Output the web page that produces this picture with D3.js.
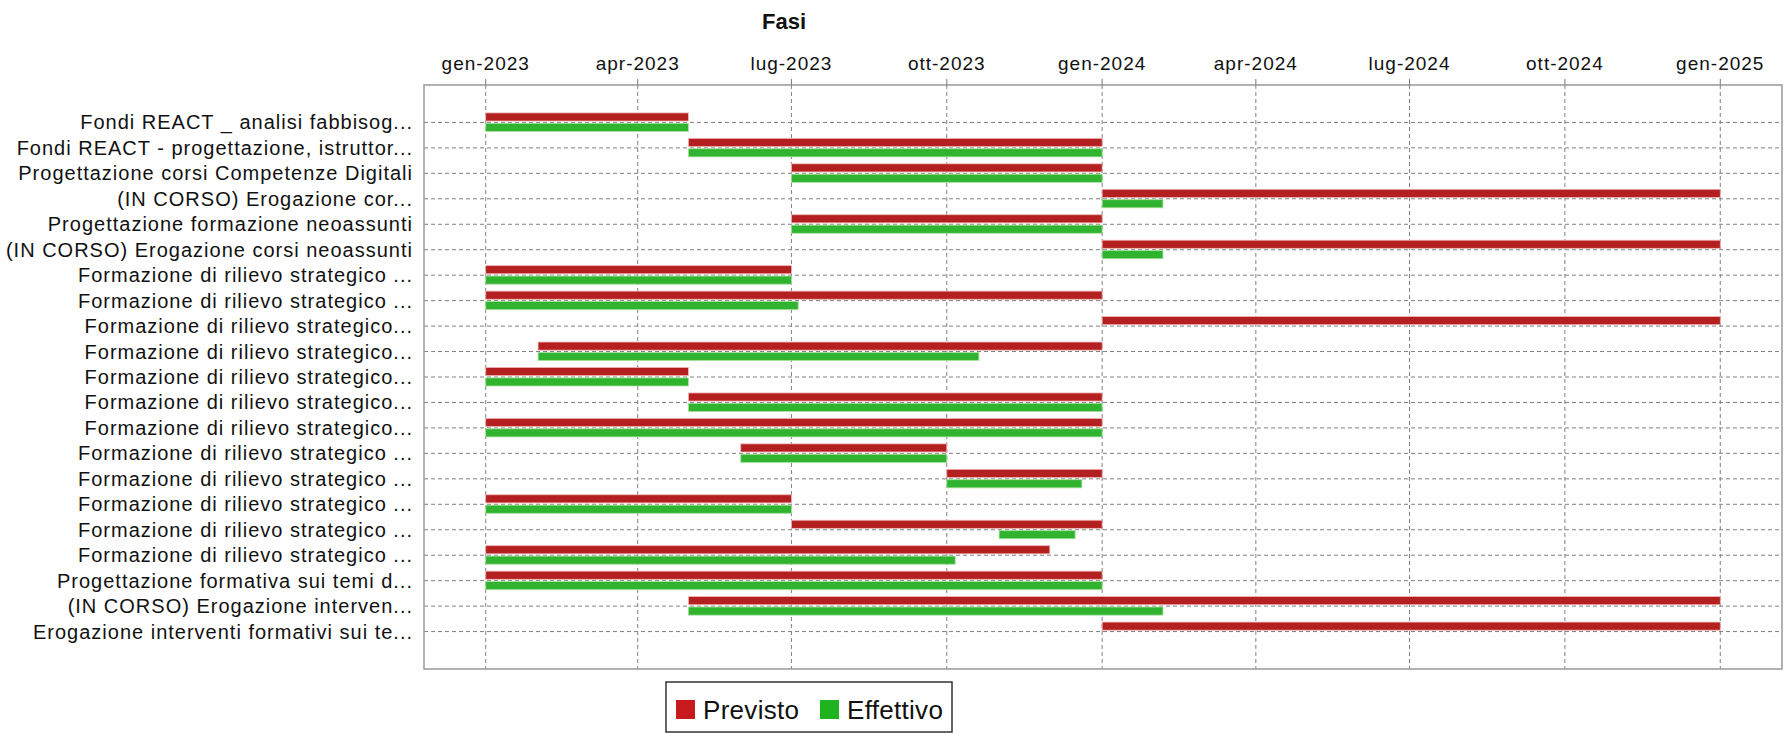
<!DOCTYPE html>
<html lang="it">
<head>
<meta charset="utf-8">
<title>Fasi</title>
<style>
  body { margin: 0; background: #fff; }
  svg text { font-family: "Liberation Sans", Arial, sans-serif; fill: #111; }
  .grid line { stroke: #808080; stroke-width: 1; stroke-dasharray: 4,3; }
  .rowlabel { font-size: 20px; letter-spacing: 1px; }
  .ticklabel { font-size: 19px; letter-spacing: 1px; }
</style>
</head>
<body>
<div id="chart"></div>
<script src="https://cdn.jsdelivr.net/npm/d3@7"></script>
<script>
// fasi (etichette come nel grafico, tagliate)
var fasi = [
  "Fondi REACT _ analisi fabbisog...",
  "Fondi REACT - progettazione, istruttor...",
  "Progettazione corsi Competenze Digitali",
  "(IN CORSO) Erogazione cor...",
  "Progettazione formazione neoassunti",
  "(IN CORSO) Erogazione corsi neoassunti",
  "Formazione di rilievo strategico ...",
  "Formazione di rilievo strategico ...",
  "Formazione di rilievo strategico...",
  "Formazione di rilievo strategico...",
  "Formazione di rilievo strategico...",
  "Formazione di rilievo strategico...",
  "Formazione di rilievo strategico...",
  "Formazione di rilievo strategico ...",
  "Formazione di rilievo strategico ...",
  "Formazione di rilievo strategico ...",
  "Formazione di rilievo strategico ...",
  "Formazione di rilievo strategico ...",
  "Progettazione formativa sui temi d...",
  "(IN CORSO) Erogazione interven...",
  "Erogazione interventi formativi sui te..."
];

var previstoInizio = ["2023-01-01","2023-05-01","2023-07-01","2024-01-01","2023-07-01","2024-01-01","2023-01-01",
  "2023-01-01","2024-01-01","2023-02-01","2023-01-01","2023-05-01","2023-01-01","2023-06-01",
  "2023-10-01","2023-01-01","2023-07-01","2023-01-01","2023-01-01","2023-05-01","2024-01-01"];
var previstoFine = ["2023-05-01","2024-01-01","2024-01-01","2025-01-01","2024-01-01","2025-01-01","2023-07-01",
  "2024-01-01","2025-01-01","2024-01-01","2023-05-01","2024-01-01","2024-01-01","2023-10-01",
  "2024-01-01","2023-07-01","2024-01-01","2023-12-01","2024-01-01","2025-01-01","2025-01-01"];

var effettivoInizio = ["2023-01-01","2023-05-01","2023-07-01","2024-01-01","2023-07-01","2024-01-01","2023-01-01",
  "2023-01-01",null,"2023-02-01","2023-01-01","2023-05-01","2023-01-01","2023-06-01",
  "2023-10-01","2023-01-01","2023-11-01","2023-01-01","2023-01-01","2023-05-01",null];
var effettivoFine = ["2023-05-01","2024-01-01","2024-01-01","2024-02-06","2024-01-01","2024-02-06","2023-07-01",
  "2023-07-05",null,"2023-10-20","2023-05-01","2024-01-01","2024-01-01","2023-10-01",
  "2023-12-20","2023-07-01","2023-12-16","2023-10-06","2024-01-01","2024-02-06",null];

var serie = ["Previsto", "Effettivo"];
var colori = { "Previsto": "#b41f1f", "Effettivo": "#30b430" };
var coloriLegenda = { "Previsto": "#c8191c", "Effettivo": "#1fb41f" };

var width = 1789, height = 733;
var plot = { left: 424, right: 1782, top: 85, bottom: 669 };

var parse = d3.timeParse("%Y-%m-%d");
var it = d3.timeFormatLocale({
  dateTime: "%A %e %B %Y, %X", date: "%d/%m/%Y", time: "%H:%M:%S",
  periods: ["AM", "PM"],
  days: ["Domenica","Lunedì","Martedì","Mercoledì","Giovedì","Venerdì","Sabato"],
  shortDays: ["Dom","Lun","Mar","Mer","Gio","Ven","Sab"],
  months: ["Gennaio","Febbraio","Marzo","Aprile","Maggio","Giugno","Luglio","Agosto","Settembre","Ottobre","Novembre","Dicembre"],
  shortMonths: ["gen","feb","mar","apr","mag","giu","lug","ago","set","ott","nov","dic"]
});
var fmt = it.format("%b-%Y");

// barre: una riga per fase, due serie
var bars = [];
fasi.forEach(function(f, i) {
  bars.push({ row: i, serie: "Previsto", start: parse(previstoInizio[i]), end: parse(previstoFine[i]) });
  if (effettivoInizio[i]) {
    bars.push({ row: i, serie: "Effettivo", start: parse(effettivoInizio[i]), end: parse(effettivoFine[i]) });
  }
});

// asse temporale con margine del 5% come nel grafico originale
var minD = d3.min(bars, function(d) { return d.start; });
var maxD = d3.max(bars, function(d) { return d.end; });
var span = maxD - minD;
var x = d3.scaleTime()
    .domain([new Date(+minD - span * 0.05), new Date(+maxD + span * 0.05)])
    .range([plot.left, plot.right]);

var y = d3.scaleBand()
    .domain(d3.range(fasi.length))
    .range([plot.top, plot.bottom])
    .paddingInner(0)
    .paddingOuter(0.97);

var ys = d3.scaleBand()
    .domain(serie)
    .range([-9.5, 9])
    .paddingInner(0.22);

var svg = d3.select("#chart").append("svg")
    .attr("width", width)
    .attr("height", height);

svg.append("rect")
    .attr("x", plot.left).attr("y", plot.top)
    .attr("width", plot.right - plot.left).attr("height", plot.bottom - plot.top)
    .attr("fill", "#fff");

var ticks = x.ticks(d3.timeMonth.every(3));

// griglia
var grid = svg.append("g").attr("class", "grid");
grid.selectAll("line.h")
  .data(d3.range(fasi.length))
  .enter().append("line")
    .attr("class", "h")
    .attr("x1", plot.left).attr("x2", plot.right)
    .attr("y1", function(d) { return y(d) + y.bandwidth() / 2; })
    .attr("y2", function(d) { return y(d) + y.bandwidth() / 2; });
grid.selectAll("line.v")
  .data(ticks)
  .enter().append("line")
    .attr("class", "v")
    .attr("x1", function(d) { return x(d); }).attr("x2", function(d) { return x(d); })
    .attr("y1", plot.top).attr("y2", plot.bottom);

// barre
svg.append("g").selectAll("rect")
  .data(bars)
  .enter().append("rect")
    .attr("x", function(d) { return x(d.start); })
    .attr("width", function(d) { return x(d.end) - x(d.start); })
    .attr("y", function(d) { return y(d.row) + y.bandwidth() / 2 + ys(d.serie); })
    .attr("height", ys.bandwidth())
    .attr("fill", function(d) { return colori[d.serie]; })
    .attr("stroke", function(d) { return d.serie === "Previsto" ? "#f0b4b4" : "#a8e0a0"; })
    .attr("stroke-width", 0.8);

// bordo area
svg.append("rect")
    .attr("x", plot.left).attr("y", plot.top)
    .attr("width", plot.right - plot.left).attr("height", plot.bottom - plot.top)
    .attr("fill", "none")
    .attr("stroke", "#999")
    .attr("stroke-width", 1.5);

// asse in alto
var xAxis = svg.append("g");
xAxis.selectAll("line")
  .data(ticks)
  .enter().append("line")
    .attr("x1", function(d) { return x(d); }).attr("x2", function(d) { return x(d); })
    .attr("y1", plot.top - 6).attr("y2", plot.top)
    .attr("stroke", "#777");
xAxis.selectAll("text")
  .data(ticks)
  .enter().append("text")
    .attr("class", "ticklabel")
    .attr("x", function(d) { return x(d); })
    .attr("y", 70)
    .attr("text-anchor", "middle")
    .text(function(d) { return fmt(d); });

// etichette righe
svg.append("g").selectAll("text")
  .data(fasi)
  .enter().append("text")
    .attr("class", "rowlabel")
    .attr("x", plot.left - 11)
    .attr("y", function(d, i) { return y(i) + y.bandwidth() / 2; })
    .attr("dy", "0.35em")
    .attr("text-anchor", "end")
    .text(function(d) { return d; });

// titolo
svg.append("text")
    .attr("x", 784).attr("y", 29)
    .attr("text-anchor", "middle")
    .style("font-size", "22px")
    .style("font-weight", "bold")
    .text("Fasi");

// legenda
var lg = svg.append("g");
lg.append("rect")
    .attr("x", 666).attr("y", 682)
    .attr("width", 286).attr("height", 50)
    .attr("fill", "#fff")
    .attr("stroke", "#333")
    .attr("stroke-width", 1.5);
var lx = [676, 820];
serie.forEach(function(s, i) {
  lg.append("rect")
      .attr("x", lx[i]).attr("y", 700)
      .attr("width", 19).attr("height", 19)
      .attr("fill", coloriLegenda[s]);
  lg.append("text")
      .attr("x", lx[i] + 27).attr("y", 719)
      .style("font-size", "26px")
      .style("letter-spacing", "0.3px")
      .text(s);
});
</script>
</body>
</html>
